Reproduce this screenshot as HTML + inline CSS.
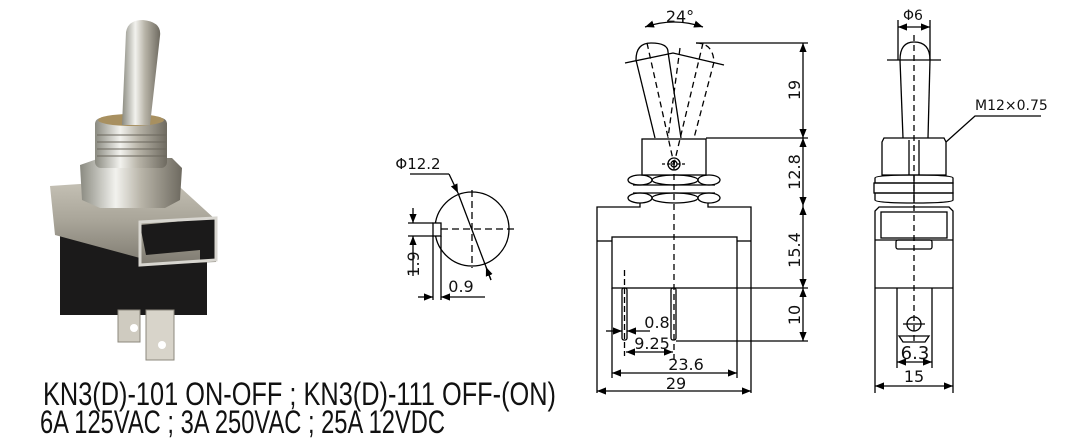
<!DOCTYPE html>
<html><head><meta charset="utf-8"><style>
html,body{margin:0;padding:0;background:#fff;}
svg{display:block;}
text{font-family:"DejaVu Sans","Liberation Sans",sans-serif;fill:#111;}
</style></head><body>
<svg width="1073" height="443" viewBox="0 0 1073 443" xmlns="http://www.w3.org/2000/svg">
<defs>
<marker id="a" viewBox="0 0 10 10" refX="10" refY="5" markerWidth="9" markerHeight="9" orient="auto-start-reverse" markerUnits="userSpaceOnUse"><path d="M0,1 L10,5 L0,9 z" fill="#000"/></marker>
<linearGradient id="met" x1="0" x2="1"><stop offset="0" stop-color="#8a8a80"/><stop offset="0.35" stop-color="#f2f2ee"/><stop offset="0.6" stop-color="#b8b4a8"/><stop offset="1" stop-color="#6e6a60"/></linearGradient>
<linearGradient id="met2" x1="0" y1="0" x2="0" y2="1"><stop offset="0" stop-color="#c8c4b8"/><stop offset="0.5" stop-color="#a8a498"/><stop offset="1" stop-color="#7e7a70"/></linearGradient>
</defs>

<!-- PHOTO -->
<g>
 <rect x="60" y="215" width="147" height="100" fill="#1b1a1a"/>
 <path d="M50,186 L170,178 L216,220 L216,262 L140,265 L140,258 L55,235 Z" fill="url(#met2)"/>
 <path d="M140,225 L216,218 L216,260 L200,260 L200,250 L146,255 Z" fill="#1b1a1a"/>
 <path d="M140,222 L216,218 L216,260 L140,265 Z" fill="none" stroke="#d8d6d0" stroke-width="3"/>
 <rect x="118" y="310" width="22" height="32" fill="#cfcbc0" stroke="#8c887e"/>
 <rect x="146" y="310" width="28" height="50" fill="#d8d4ca" stroke="#8c887e"/>
 <circle cx="134" cy="328" r="4" fill="#fff"/><circle cx="162" cy="345" r="4" fill="#fff"/>
 <polygon points="80,165 100,158 172,158 182,168 180,200 165,208 100,208 82,200" fill="url(#met)"/>
 <rect x="95" y="118" width="72" height="50" rx="6" fill="url(#met)"/>
 <g stroke="#6a665c" stroke-width="1"><line x1="97" y1="135" x2="166" y2="135"/><line x1="97" y1="142" x2="166" y2="142"/><line x1="97" y1="149" x2="166" y2="149"/><line x1="97" y1="156" x2="166" y2="156"/></g>
 <ellipse cx="131" cy="120" rx="33" ry="6" fill="#a89060"/>
 <path d="M126,32 Q128,20 143,20 Q162,22 160,36 L150,125 L122,125 Z" fill="url(#met)"/>
</g>

<!-- TEXT -->
<text x="43" y="405" font-size="32" textLength="513" lengthAdjust="spacingAndGlyphs" style="font-family:'Liberation Sans Narrow','Liberation Sans',sans-serif">KN3(D)-101  ON-OFF ; KN3(D)-111  OFF-(ON)</text>
<text x="40" y="433" font-size="32" textLength="405" lengthAdjust="spacingAndGlyphs" style="font-family:'Liberation Sans Narrow','Liberation Sans',sans-serif">6A 125VAC ; 3A 250VAC ; 25A 12VDC</text>

<g fill="none" stroke="#000" stroke-width="1.3">
 <circle cx="472" cy="229" r="37"/>
 <line x1="441" y1="229" x2="518" y2="229" stroke-dasharray="7,4"/>
 <line x1="472" y1="190" x2="472" y2="268" stroke-dasharray="7,4"/>
 <rect x="433" y="223" width="8" height="13" fill="#fff"/>
 <line x1="433" y1="236" x2="433" y2="300"/><line x1="441" y1="236" x2="441" y2="300"/>
 <line x1="408" y1="223" x2="433" y2="223"/><line x1="408" y1="236" x2="433" y2="236"/>
 <line x1="413" y1="208" x2="413" y2="223" marker-end="url(#a)"/>
 <line x1="413" y1="276" x2="413" y2="236" marker-end="url(#a)"/>
 <line x1="418" y1="297" x2="433" y2="297" marker-end="url(#a)"/>
 <line x1="485" y1="297" x2="441" y2="297" marker-end="url(#a)"/>
 <polyline points="410,174 449,174"/>
 <line x1="449" y1="174" x2="458" y2="193" marker-end="url(#a)"/>
 <line x1="458" y1="193" x2="491" y2="280"/>
 <line x1="491" y1="280" x2="486" y2="267" marker-end="url(#a)"/>

 <path d="M636,60 Q636,43 651,43 Q668,43 668,52"/>
 <line x1="636" y1="60" x2="655" y2="138"/><line x1="668" y1="52" x2="681" y2="138"/>
 <polyline points="625,63 673,53 724,65"/>
 <g stroke-dasharray="6,4">
  <path d="M696,43 Q713,43 714,62"/>
  <line x1="680" y1="48" x2="668" y2="138"/><line x1="714" y1="62" x2="694" y2="138"/>
  <line x1="647" y1="43" x2="674" y2="164"/><line x1="703" y1="43" x2="674" y2="164"/>
  <line x1="674" y1="164" x2="674" y2="360"/>
 </g>
 <path d="M645,27 Q674,17 703,27" marker-start="url(#a)" marker-end="url(#a)"/>
 <line x1="696" y1="43" x2="808" y2="43"/>
 <line x1="706" y1="138" x2="808" y2="138"/>
 <line x1="803" y1="43" x2="803" y2="138" marker-start="url(#a)" marker-end="url(#a)"/>
 <line x1="803" y1="138" x2="803" y2="206" marker-start="url(#a)" marker-end="url(#a)"/>
 <line x1="803" y1="206" x2="803" y2="288" marker-start="url(#a)" marker-end="url(#a)"/>
 <line x1="803" y1="288" x2="803" y2="341" marker-start="url(#a)" marker-end="url(#a)"/>
 <rect x="642" y="139" width="64" height="36"/>
 <circle cx="674" cy="164" r="6"/><circle cx="674" cy="164" r="3"/>
 <line x1="662" y1="164" x2="686" y2="164" stroke-dasharray="3,2"/>
 <g>
  <ellipse cx="640" cy="180" rx="12" ry="5"/><ellipse cx="675" cy="180" rx="23" ry="5"/><ellipse cx="709" cy="180" rx="11" ry="5"/>
  <ellipse cx="640" cy="198" rx="12" ry="5"/><ellipse cx="675" cy="198" rx="23" ry="5"/><ellipse cx="709" cy="198" rx="11" ry="5"/>
  <line x1="633" y1="185" x2="715" y2="185"/><line x1="633" y1="193" x2="715" y2="193"/>
 </g>
 <polyline points="640,203 640,207 597,207 597,393"/>
 <polyline points="708,203 708,207 751,207 751,393"/>
 <line x1="597" y1="241" x2="612" y2="241"/><line x1="737" y1="241" x2="751" y2="241"/>
 <rect x="612" y="237" width="125" height="51"/>
 <line x1="737" y1="288" x2="808" y2="288"/>
 <line x1="612" y1="288" x2="612" y2="378"/><line x1="737" y1="288" x2="737" y2="378"/>
 <rect x="622" y="288" width="5" height="52" rx="2"/>
 <rect x="671" y="288" width="5" height="52" rx="2"/>
 <line x1="624.5" y1="270" x2="624.5" y2="356" stroke-dasharray="6,3"/>
 <line x1="676" y1="341" x2="808" y2="341"/>
 <line x1="606" y1="331" x2="622" y2="331" marker-end="url(#a)"/>
 <line x1="650" y1="331" x2="627" y2="331" marker-end="url(#a)"/>
 <line x1="626" y1="352" x2="673" y2="352" marker-start="url(#a)" marker-end="url(#a)"/>
 <line x1="612" y1="373" x2="737" y2="373" marker-start="url(#a)" marker-end="url(#a)"/>
 <line x1="597" y1="391" x2="751" y2="391" marker-start="url(#a)" marker-end="url(#a)"/>

 <line x1="898" y1="20" x2="898" y2="60"/><line x1="930" y1="20" x2="930" y2="60"/>
 <line x1="898" y1="27" x2="930" y2="27" marker-start="url(#a)" marker-end="url(#a)"/>
 <path d="M900,60 Q900,42 914,42 Q930,42 930,60"/>
 <line x1="887" y1="60" x2="941" y2="60"/>
 <line x1="900" y1="60" x2="903" y2="138"/><line x1="930" y1="60" x2="928" y2="138"/>
 <path d="M884,138 L944,138 L946,142 L946,175 L882,175 L882,142 Z"/>
 <line x1="909" y1="140" x2="909" y2="175"/><line x1="919" y1="140" x2="919" y2="175"/>
 <polyline points="946,142 975,116 1041,116"/>
 <path d="M875,178 Q875,175 914,175 Q953,175 953,178 L953,183 L875,183 Z"/>
 <rect x="874" y="183" width="79" height="10"/>
 <path d="M875,193 L953,193 L953,200 Q953,203 914,203 Q875,203 875,200 Z"/>
 <line x1="914" y1="175" x2="914" y2="203"/>
 <path d="M875,240 L875,211 L879,207 L949,207 L953,211 L953,240"/>
 <rect x="881" y="212" width="66" height="26"/>
 <rect x="896" y="240" width="36" height="9" rx="2"/>
 <line x1="875" y1="240" x2="953" y2="240"/>
 <line x1="875" y1="240" x2="875" y2="393"/><line x1="953" y1="240" x2="953" y2="393"/>
 <line x1="875" y1="288" x2="953" y2="288"/>
 <line x1="897" y1="288" x2="897" y2="368"/><line x1="932" y1="288" x2="932" y2="368"/>
 <path d="M899,336 L929,336 L925,342 L903,342 Z"/>
 <circle cx="914" cy="324" r="7"/>
 <line x1="903" y1="324" x2="925" y2="324"/>
 <line x1="914" y1="35" x2="914" y2="345" stroke-dasharray="6,4"/>
 <line x1="897" y1="362" x2="932" y2="362" marker-start="url(#a)" marker-end="url(#a)"/>
 <line x1="875" y1="386" x2="953" y2="386" marker-start="url(#a)" marker-end="url(#a)"/>
</g>

<g font-size="16">
 <text x="418" y="169" text-anchor="middle" font-size="15">Φ12.2</text>
 <text x="461" y="292" text-anchor="middle">0.9</text>
 <text transform="translate(419,264) rotate(-90)" text-anchor="middle">1.9</text>
 <text x="680" y="22" text-anchor="middle">24°</text>
 <text transform="translate(800,90) rotate(-90)" text-anchor="middle">19</text>
 <text transform="translate(800,172) rotate(-90)" text-anchor="middle">12.8</text>
 <text transform="translate(800,250) rotate(-90)" text-anchor="middle">15.4</text>
 <text transform="translate(800,315) rotate(-90)" text-anchor="middle">10</text>
 <text x="657" y="328" text-anchor="middle">0.8</text>
 <text x="652" y="349" text-anchor="middle">9.25</text>
 <text x="686" y="370" text-anchor="middle">23.6</text>
 <text x="676" y="389" text-anchor="middle">29</text>
 <text x="913" y="20" text-anchor="middle" font-size="14">Φ6</text>
 <text x="975" y="110" font-size="14">M12×0.75</text>
 <text x="915" y="359" text-anchor="middle" font-size="18">6.3</text>
 <text x="914" y="382" text-anchor="middle">15</text>
</g>
</svg>
</body></html>
